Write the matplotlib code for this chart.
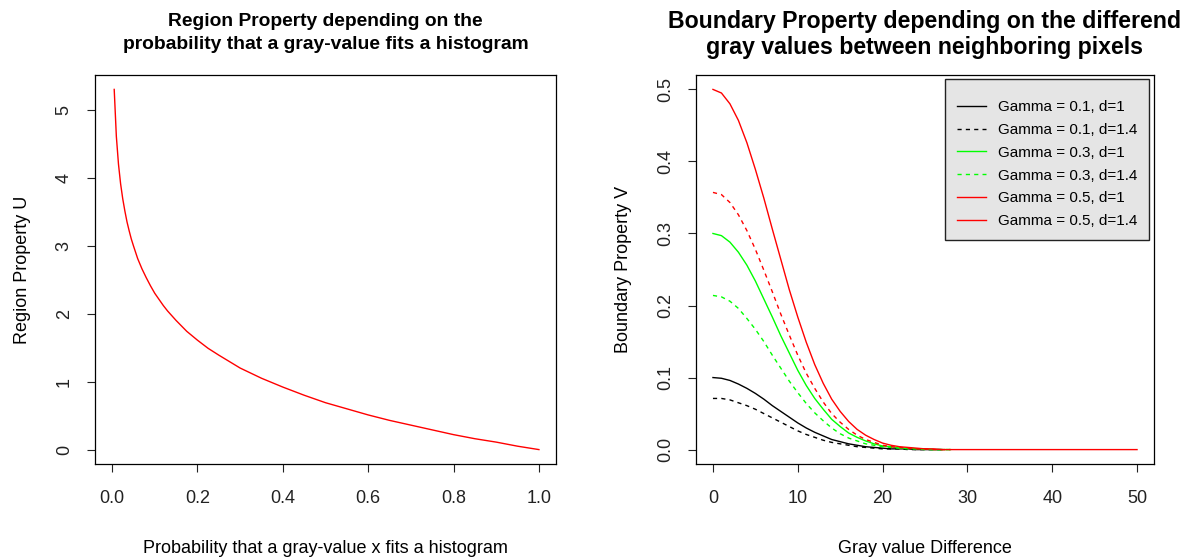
import matplotlib
matplotlib.use("Agg")
import matplotlib.pyplot as plt

plt.rcParams["font.family"] = ["Liberation Sans", "DejaVu Sans"]

# left panel: region property U over probability x
prob = [0.005, 0.01, 0.015, 0.02, 0.025, 0.03, 0.035, 0.04, 0.045, 0.05,
        0.06, 0.07, 0.08, 0.09, 0.10, 0.11, 0.12, 0.13, 0.15, 0.175,
        0.20, 0.225, 0.25, 0.30, 0.35, 0.40, 0.45, 0.50, 0.55, 0.60,
        0.65, 0.70, 0.75, 0.80, 0.85, 0.90, 0.95, 1.00]
region_u = [5.30, 4.61, 4.20, 3.91, 3.69, 3.51, 3.35, 3.22, 3.10, 3.00,
            2.81, 2.66, 2.53, 2.41, 2.30, 2.21, 2.12, 2.04, 1.90, 1.74,
            1.61, 1.49, 1.39, 1.20, 1.05, 0.92, 0.80, 0.69, 0.60, 0.51,
            0.43, 0.36, 0.29, 0.22, 0.16, 0.11, 0.05, 0.00]

# right panel: boundary property V over gray value difference
gray_diff = list(range(29))
gray_diff_long = gray_diff + [30, 35, 40, 45, 50]

v_g01_d1 = [0.100, 0.099, 0.096, 0.091, 0.085, 0.078, 0.070, 0.061, 0.053, 0.045,
            0.037, 0.030, 0.024, 0.019, 0.014, 0.011, 0.008, 0.006, 0.004, 0.003,
            0.002, 0.001, 0.001, 0.001, 0.000, 0.000, 0.000, 0.000]
v_g01_d14 = [0.071, 0.071, 0.069, 0.065, 0.061, 0.056, 0.050, 0.044, 0.038, 0.032,
             0.026, 0.021, 0.017, 0.013, 0.010, 0.008, 0.006, 0.004, 0.003, 0.002,
             0.001, 0.001, 0.001, 0.000, 0.000, 0.000, 0.000, 0.000]
v_g03_d1 = [0.300, 0.297, 0.288, 0.274, 0.256, 0.234, 0.209, 0.184, 0.158, 0.134,
            0.110, 0.089, 0.071, 0.056, 0.042, 0.032, 0.023, 0.017, 0.012, 0.008,
            0.005, 0.004, 0.002, 0.002, 0.001, 0.001, 0.000, 0.000, 0.000]
v_g03_d14 = [0.214, 0.212, 0.206, 0.196, 0.182, 0.167, 0.150, 0.131, 0.113, 0.095,
             0.079, 0.064, 0.051, 0.040, 0.030, 0.022, 0.016, 0.012, 0.008, 0.006,
             0.004, 0.003, 0.002, 0.001, 0.001, 0.000, 0.000, 0.000, 0.000]
v_g05_d1 = [0.500, 0.495, 0.480, 0.457, 0.426, 0.389, 0.349, 0.306, 0.264, 0.222,
            0.184, 0.149, 0.118, 0.092, 0.070, 0.053, 0.039, 0.028, 0.020, 0.014,
            0.009, 0.006, 0.004, 0.003, 0.002, 0.001, 0.001, 0.000, 0.000,
            0.000, 0.000, 0.000, 0.000, 0.000]
v_g05_d14 = [0.357, 0.354, 0.343, 0.326, 0.304, 0.278, 0.249, 0.219, 0.188, 0.159,
             0.131, 0.106, 0.085, 0.066, 0.050, 0.038, 0.028, 0.020, 0.014, 0.010,
             0.006, 0.004, 0.003, 0.002, 0.001, 0.001, 0.000, 0.000, 0.000]

legend_labels = ["Gamma = 0.1, d=1", "Gamma = 0.1, d=1.4",
                 "Gamma = 0.3, d=1", "Gamma = 0.3, d=1.4",
                 "Gamma = 0.5, d=1", "Gamma = 0.5, d=1.4"]

W, H = 1187, 560
fig = plt.figure(figsize=(W / 100, H / 100), dpi=100)


def px_axes(x0, x1, y0, y1):
    return fig.add_axes([x0 / W, (H - y1) / H, (x1 - x0) / W, (y1 - y0) / H])


def style(ax):
    for sp in ax.spines.values():
        sp.set_linewidth(0.9)
    ax.tick_params(direction="out", length=5.5, width=0.8,
                   labelsize=13, colors="#222222")
    ax.tick_params(axis="x", pad=13)
    ax.tick_params(axis="y", pad=10.5)
    for lbl in ax.get_yticklabels():
        lbl.set_rotation(90)
        lbl.set_va("center")


ax1 = px_axes(95, 556, 75, 464)
ax1.plot(prob, region_u, color="red", lw=1.0)
ax1.set_xlim(-0.04, 1.04)
ax1.set_ylim(-0.212, 5.512)
ax1.set_xticks([0.0, 0.2, 0.4, 0.6, 0.8, 1.0])
ax1.set_yticks([0, 1, 2, 3, 4, 5])
ax1.set_xticklabels(["0.0", "0.2", "0.4", "0.6", "0.8", "1.0"])
style(ax1)
ax1.set_xlabel("Probability that a gray-value x fits a histogram", fontsize=13, labelpad=24)
ax1.set_ylabel("Region Property U", fontsize=13, labelpad=18)
ax1.set_title("Region Property depending on the\nprobability that a gray-value fits a histogram",
              fontsize=13.9, fontweight="bold", pad=19, linespacing=1.42)

ax2 = px_axes(696, 1154, 75, 464)
ax2.plot(gray_diff[:28], v_g01_d1, color="black", lw=1.0)
ax2.plot(gray_diff[:28], v_g01_d14, color="black", lw=1.0, dashes=(3, 3))
ax2.plot(gray_diff, v_g03_d1, color="#00ff00", lw=1.0)
ax2.plot(gray_diff, v_g03_d14, color="#00ff00", lw=1.0, dashes=(3, 3))
ax2.plot(gray_diff_long, v_g05_d1, color="red", lw=1.0)
ax2.plot(gray_diff, v_g05_d14, color="red", lw=1.0, dashes=(3, 3))
ax2.set_xlim(-2, 52)
ax2.set_ylim(-0.02, 0.52)
ax2.set_xticks([0, 10, 20, 30, 40, 50])
ax2.set_yticks([0.0, 0.1, 0.2, 0.3, 0.4, 0.5])
ax2.set_yticklabels(["0.0", "0.1", "0.2", "0.3", "0.4", "0.5"])
style(ax2)
ax2.set_xlabel("Gray value Difference", fontsize=13, labelpad=24)
ax2.set_ylabel("Boundary Property V", fontsize=13, labelpad=18)
ax2.set_title("Boundary Property depending on the differend\ngray values between neighboring pixels",
              fontsize=16.7, fontweight="bold", pad=15, linespacing=1.2)

# legend as drawn by R: last entry shows a solid red line
handles = [
    plt.Line2D([], [], color="black", lw=1.0),
    plt.Line2D([], [], color="black", lw=1.0, dashes=(3, 3)),
    plt.Line2D([], [], color="#00ff00", lw=1.0),
    plt.Line2D([], [], color="#00ff00", lw=1.0, dashes=(3, 3)),
    plt.Line2D([], [], color="red", lw=1.0),
    plt.Line2D([], [], color="red", lw=1.0),
]
# a tiny blank title gives the extra space R leaves above the first entry
leg = ax2.legend(handles, legend_labels, loc="upper right",
                 bbox_to_anchor=((1149 - 696) / 458, (464 - 79) / 389),
                 borderaxespad=0, fontsize=11, frameon=True, fancybox=False,
                 handlelength=1.9, handletextpad=0.8,
                 labelspacing=0.575, borderpad=0.75,
                 title=" ", title_fontsize=1)
leg.get_frame().set_facecolor("#e5e5e5")
leg.get_frame().set_edgecolor("#222222")
leg.get_frame().set_linewidth(1.0)
leg.get_frame().set_alpha(1.0)

fig.savefig("out.png", dpi=100)
plt.close(fig)
